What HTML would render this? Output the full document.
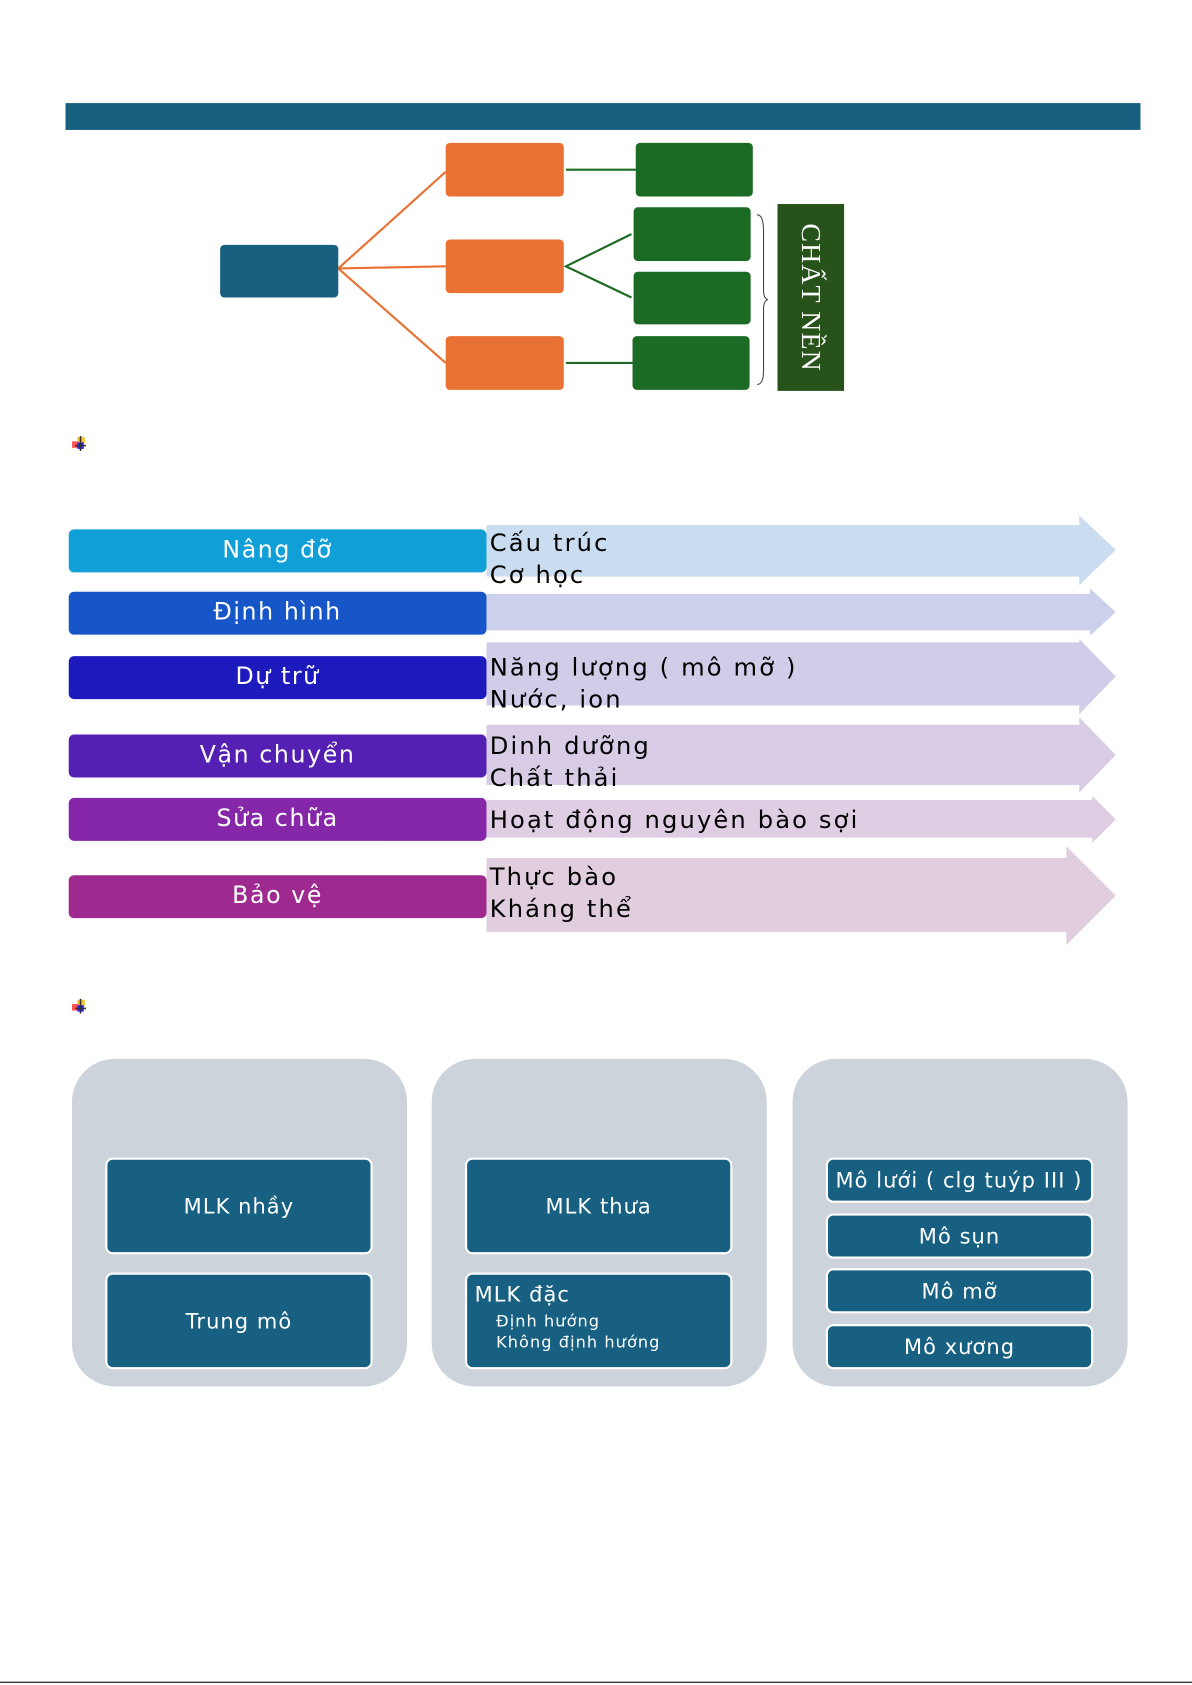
<!DOCTYPE html>
<html><head><meta charset="utf-8"><style>
body{margin:0;width:1192px;height:1685px;background:#fff;overflow:hidden;font-family:"DejaVu Sans","Liberation Sans",sans-serif}
#w{position:absolute;left:0;top:0;width:1110px;height:1569px;transform:scale(1.0739);transform-origin:0 0}
.a{position:absolute;box-sizing:border-box}
.r{border-radius:4px}
.lab{color:#fff;font-size:22px;text-align:center;border-radius:5px;line-height:40px;height:40px;left:64px;width:389px;letter-spacing:1.5px}
.tx{position:absolute;left:456px;font-size:22.5px;color:#000;line-height:30px;letter-spacing:2px}
.card{background:#cdd3da;border-radius:40px;top:986px;height:305px;width:312px}
.ib{background:#176081;border:2px solid #fff;border-radius:7px;color:#fff;font-family:"DejaVu Sans",sans-serif;font-size:19.5px;text-align:center;display:flex;align-items:center;justify-content:center;letter-spacing:1px}
.ic{position:absolute;width:14px;height:14px}
</style></head><body><div id="w">
<div class="a" style="left:61px;top:96px;width:1001px;height:25px;background:#17607f"></div>
<svg class="a" style="left:0;top:0" width="1110" height="400">
<g stroke="#e87133" stroke-width="2"><line x1="315" y1="250" x2="415" y2="160"/><line x1="315" y1="250" x2="415" y2="248"/><line x1="315" y1="250" x2="415" y2="338"/></g>
<g stroke="#1c6b24" stroke-width="2" fill="none"><line x1="527" y1="158" x2="592" y2="158"/><polyline points="588,218 527,248 588,277"/><line x1="527" y1="338" x2="589" y2="338"/></g>
<path d="M705,200 Q711,200 711,215 L711,270 Q711,278 715,279 Q711,280 711,288 L711,345 Q711,358 705,358" stroke="#444" stroke-width="1" fill="none"/>
</svg>
<div class="a r" style="left:205px;top:228px;width:110px;height:49px;background:#17607f"></div>
<div class="a r" style="left:415px;top:133px;width:110px;height:50px;background:#e87133"></div>
<div class="a r" style="left:415px;top:223px;width:110px;height:50px;background:#e87133"></div>
<div class="a r" style="left:415px;top:313px;width:110px;height:50px;background:#e87133"></div>
<div class="a r" style="left:592px;top:133px;width:109px;height:50px;background:#1c6b24"></div>
<div class="a r" style="left:590px;top:193px;width:109px;height:50px;background:#1c6b24"></div>
<div class="a r" style="left:590px;top:253px;width:109px;height:49px;background:#1c6b24"></div>
<div class="a r" style="left:589px;top:313px;width:109px;height:50px;background:#1c6b24"></div>
<div class="a" style="left:724px;top:190px;width:62px;height:174px;background:#27531b;display:flex;align-items:center;justify-content:center"><span style="writing-mode:vertical-rl;color:#fff;font-family:'Liberation Serif',serif;font-size:26px;letter-spacing:1px">CHẤT NỀN</span></div>

<svg class="ic" style="left:67px;top:406px" viewBox="0 0 14 14"><rect x="5" y="1" width="7" height="6" fill="#f5c430"/><rect x="0" y="5" width="6" height="6" fill="#f55"/><rect x="5" y="6" width="6" height="6" fill="#22f"/><line x1="8" y1="0" x2="8" y2="14" stroke="#333" stroke-width="1.5"/><line x1="3" y1="9" x2="13" y2="9" stroke="#333" stroke-width="1.5"/></svg>
<svg class="ic" style="left:67px;top:930px" viewBox="0 0 14 14"><rect x="5" y="1" width="7" height="6" fill="#f5c430"/><rect x="0" y="5" width="6" height="6" fill="#f55"/><rect x="5" y="6" width="6" height="6" fill="#22f"/><line x1="8" y1="0" x2="8" y2="14" stroke="#333" stroke-width="1.5"/><line x1="3" y1="9" x2="13" y2="9" stroke="#333" stroke-width="1.5"/></svg>

<svg class="a" style="left:0;top:0" width="1110" height="900">
<polygon points="453,489 1005,489 1005,480 1039,512 1005,545 1005,537 453,537" fill="#cadcef"/>
<polygon points="453,553 1015,553 1015,548 1039,570 1015,592 1015,587 453,587" fill="#ccd0ea"/>
<polygon points="453,598 1005,598 1005,595 1039,630 1005,665 1005,657 453,657" fill="#d1cde9"/>
<polygon points="453,675 1005,675 1005,668 1039,703 1005,738 1005,731 453,731" fill="#d8cbe6"/>
<polygon points="453,745 1017,745 1017,741 1039,763 1017,785 1017,780 453,780" fill="#dfcde4"/>
<polygon points="453,799 993,799 993,788 1039,834 993,880 993,868 453,868" fill="#e0cddd"/>
</svg>
<div class="a lab" style="top:493px;background:#119fd8">Nâng đỡ</div>
<div class="a lab" style="top:551px;background:#1656c8">Định hình</div>
<div class="a lab" style="top:611px;background:#1d1abd">Dự trữ</div>
<div class="a lab" style="top:684px;background:#5420b3">Vận chuyển</div>
<div class="a lab" style="top:743px;background:#8626a8">Sửa chữa</div>
<div class="a lab" style="top:815px;background:#9e2a8f">Bảo vệ</div>
<div class="tx" style="top:491px">Cấu trúc<br>Cơ học</div>
<div class="tx" style="top:607px">Năng lượng ( mô mỡ )<br>Nước, ion</div>
<div class="tx" style="top:680px">Dinh dưỡng<br>Chất thải</div>
<div class="tx" style="top:749px">Hoạt động nguyên bào sợi</div>
<div class="tx" style="top:802px">Thực bào<br>Kháng thể</div>

<div class="a card" style="left:67px"></div>
<div class="a card" style="left:402px"></div>
<div class="a card" style="left:738px"></div>
<div class="a ib" style="left:98px;top:1078px;width:249px;height:90px">MLK nhầy</div>
<div class="a ib" style="left:98px;top:1185px;width:249px;height:90px">Trung mô</div>
<div class="a ib" style="left:433px;top:1078px;width:249px;height:90px">MLK thưa</div>
<div class="a ib" style="left:433px;top:1185px;width:249px;height:90px;display:block;text-align:left;padding:5px 0 0 7px;line-height:28px">MLK đặc<div style="font-size:15px;line-height:20px;padding-left:20px;margin-top:0px">Định hướng<br>Không định hướng</div></div>
<div class="a ib" style="left:769px;top:1078px;width:249px;height:42px;justify-content:flex-start;padding-left:7px;white-space:nowrap;overflow:hidden">Mô lưới ( clg tuýp III )</div>
<div class="a ib" style="left:769px;top:1130px;width:249px;height:42px">Mô sụn</div>
<div class="a ib" style="left:769px;top:1181px;width:249px;height:42px">Mô mỡ</div>
<div class="a ib" style="left:769px;top:1233px;width:249px;height:42px">Mô xương</div>
<div class="a" style="left:0;top:1566px;width:1110px;height:1px;background:#000"></div>
</div></body></html>
